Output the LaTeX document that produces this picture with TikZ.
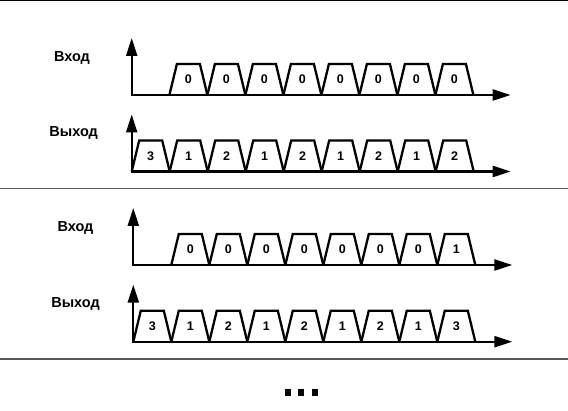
\documentclass[tikz,border=0pt]{standalone}
\usepackage{fontspec}
\setmainfont{Liberation Sans}
\usetikzlibrary{arrows.meta}
\newcommand{\sigrow}[5]{% #1 name, #2 axis x, #3 base y, #4 first offset, #5 digits
  \coordinate (#1o) at (#2,#3);
  \coordinate (#1y) at (#2,#3-57);
  \coordinate (#1x) at (#2+379,#3);
  \draw[axisline] (#1y) -- (#1o) -- (#1x);
  \foreach \d [count=\i from 0] in {#5} {
    \pgfmathsetmacro\xa{#2+#4+38*\i}
    \draw[sig] (\xa,#3) -- ++(7.5,-31) -- ++(23,0) -- ++(7.5,31);
    \node[dig] (#1d\i) at (\xa+19,#3-15.5) {\d};
  }
}
\begin{document}
\begin{tikzpicture}[x=1pt,y=-1pt,
  sig/.style={line width=2.3pt, line join=miter, miter limit=3},
  axisline/.style={line width=2.3pt, line join=miter,
    {Triangle[length=18pt,width=11pt]}-{Triangle[length=18pt,width=11pt]}},
  sep/.style={line width=1.5pt, draw=black!65},
  topsep/.style={line width=1.5pt, draw=black},
  lbl/.style={font=\fontsize{14.5}{16}\selectfont\bfseries, anchor=base},
  dig/.style={font=\fontsize{12.5}{14}\selectfont\bfseries, inner sep=0pt},
  dotsq/.style={fill=black, draw=none},
]
\useasboundingbox (0,0) rectangle (568,411);
% separators
\coordinate (t0) at (0,0.75);   \coordinate (t1) at (568,0.75);
\coordinate (m0) at (0,188.5);  \coordinate (m1) at (568,188.5);
\coordinate (b0) at (0,359);    \coordinate (b1) at (568,359);
\draw[topsep] (t0) -- (t1);
\draw[sep] (m0) -- (m1);
\draw[sep] (b0) -- (b1);
% section 1
\node[lbl] (in1) at (72,62) {Вход};
\node[lbl] (out1) at (73.7,137) {Выход};
\sigrow{a}{131.7}{95}{37.7}{0,0,0,0,0,0,0,0}
\sigrow{b}{131.7}{171.5}{0}{3,1,2,1,2,1,2,1,2}
% section 2
\node[lbl] (in2) at (75.5,232) {Вход};
\node[lbl] (out2) at (75.5,307.3) {Выход};
\sigrow{c}{133.3}{265}{38}{0,0,0,0,0,0,0,1}
\sigrow{d}{133.3}{341.7}{0}{3,1,2,1,2,1,2,1,3}
% dots
\fill[dotsq] (285,389.5) rectangle (291,395.8);
\fill[dotsq] (298.3,389.5) rectangle (304.3,395.8);
\fill[dotsq] (311.7,389.5) rectangle (317.7,395.8);
\end{tikzpicture}
\end{document}
